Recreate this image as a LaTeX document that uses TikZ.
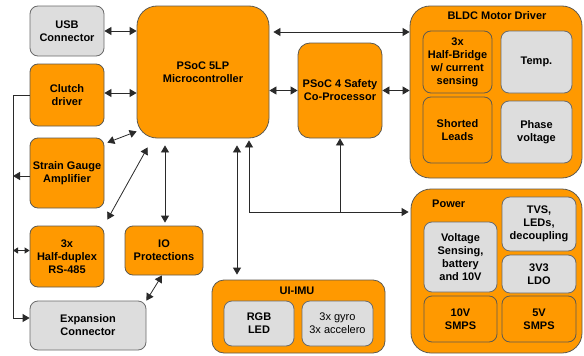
\documentclass[tikz,border=0pt]{standalone}
\usepackage{fontspec}
\setmainfont{Liberation Sans}
\usetikzlibrary{arrows.meta}
\definecolor{org}{HTML}{FF9900}
\definecolor{bordc}{HTML}{5E5A50}
\definecolor{grayf}{HTML}{DDDDDD}
\definecolor{grayb}{HTML}{6A6A6A}
\definecolor{linec}{HTML}{2A2A2A}
\begin{document}
\begin{tikzpicture}[x=1pt,y=-1pt,
  box/.style={rectangle, rounded corners=8pt, draw=bordc, line width=0.8pt, align=center, inner sep=1pt, font=\fontsize{11}{13}\selectfont\bfseries},
  obox/.style={box, fill=org},
  gbox/.style={box, fill=grayf, draw=grayb},
  con/.style={draw=linec, line width=0.8pt},
  tip/.style={-{Triangle[length=7pt,width=8pt]}},
  both/.style={{Triangle[length=7pt,width=8pt]}-{Triangle[length=7pt,width=8pt]}},
  smallboth/.style={{Triangle[length=5pt,width=6pt]}-{Triangle[length=5pt,width=6pt]}},
  title/.style={font=\fontsize{11}{13}\selectfont\bfseries, inner sep=0pt},
]
\useasboundingbox (0,0) rectangle (584,356);
\fill[white] (0,0) rectangle (584,356);

% left column
\node[gbox, minimum width=74pt, minimum height=50pt] (usb) at (67,31) {USB\\Connector};
\node[obox, minimum width=74pt, minimum height=62pt] (clutch) at (67,95) {Clutch\\driver};
\node[obox, minimum width=74pt, minimum height=70pt] (strain) at (67,173) {Strain Gauge\\Amplifier};
\node[obox, minimum width=74pt, minimum height=61pt] (rs) at (67,256.5) {3x\\Half-duplex\\RS-485};
\node[obox, minimum width=78pt, minimum height=49pt] (io) at (164,250.5) {IO\\Protections};
\node[gbox, minimum width=116pt, minimum height=49pt] (exp) at (88,325.5) {Expansion\\Connector};

% processors
\node[obox, rounded corners=20pt, minimum width=132pt, minimum height=132pt] (p5) at (203,72) {PSoC 5LP\\Microcontroller};
\node[obox, rounded corners=12pt, minimum width=84pt, minimum height=95pt] (p4) at (340,90.5) {PSoC 4 Safety\\Co-Processor};

% BLDC
\node[obox, rounded corners=20pt, minimum width=172pt, minimum height=172pt] (bldc) at (496,92) {};
\node[title] at (497,16) {BLDC Motor Driver};
\node[obox, minimum width=69pt, minimum height=62pt] (hb) at (457.5,62) {3x\\Half-Bridge\\w/ current\\sensing};
\node[gbox, minimum width=71pt, minimum height=62pt] (temp) at (536.5,62) {Temp.};
\node[obox, minimum width=69pt, minimum height=66pt] (short) at (457.5,130) {Shorted\\Leads};
\node[gbox, minimum width=71pt, minimum height=62pt] (phase) at (536.5,132) {Phase\\voltage};

% Power
\node[obox, rounded corners=20pt, minimum width=171pt, minimum height=164pt] (pow) at (496.5,271) {};
\node[title, anchor=west] at (432,204) {Power};
\node[gbox, minimum width=73pt, minimum height=70pt] (vs) at (460.5,257) {Voltage\\Sensing,\\battery\\and 10V};
\node[gbox, minimum width=74pt, minimum height=54pt] (tvs) at (539,224) {TVS,\\LEDs,\\decoupling};
\node[gbox, minimum width=74pt, minimum height=38pt] (ldo) at (539,274) {3V3\\LDO};
\node[obox, minimum width=73pt, minimum height=46pt] (s10) at (460.5,319) {10V\\SMPS};
\node[obox, minimum width=74pt, minimum height=46pt] (s5) at (539,319) {5V\\SMPS};

% UI-IMU
\node[obox, rounded corners=12pt, minimum width=173pt, minimum height=73pt] (ui) at (298.5,316.5) {};
\node[title] at (297,291) {UI-IMU};
\node[gbox, minimum width=70pt, minimum height=45pt] (rgb) at (259,323.5) {RGB\\LED};
\node[gbox, minimum width=71pt, minimum height=45pt, font=\fontsize{11}{13}\selectfont] (gyro) at (337.5,323.5) {3x gyro\\3x accelero};

% helper coordinates
\coordinate (clE) at ([yshift=2pt]clutch.east);
\coordinate (p5top) at ([yshift=40pt]p5.east);
\coordinate (ioN) at ([xshift=1pt]io.north);
\coordinate (p5ui) at ([xshift=34pt]p5.south);
\coordinate (stW) at ([yshift=-3pt]strain.west);
\coordinate (rsW) at ([yshift=6pt]rs.west);

% connectors
\draw[con, both] (usb.east) -- (p5.west |- usb.east);
\draw[con, both] (clE) -- (p5.west |- clE);
\draw[con, both] ([shift={(3,5)}]strain.north east) -- ([shift={(0,-7)}]p5.south west);
\draw[con, both] ([shift={(3,-6)}]rs.north east) -- ([shift={(11,9)}]p5.south west);
\draw[con, both, shorten <=3pt, shorten >=7pt] (ioN) -- (ioN |- p5.south);
\draw[con, both] ([xshift=-2pt]io.south) -- (exp.north east);
\draw[con, both, shorten <=7pt, shorten >=5pt] (p5ui) -- (p5ui |- ui.north);
\draw[con, both, shorten <=4pt] (p5top) -- (bldc.west |- p5top);
\draw[con, both] (p4.west) -- (p5.east |- p4.west);
\draw[con, both] (p4.east) -- (bldc.west |- p4.east);

% power bus
\coordinate (j1) at (249,212);
\coordinate (j2) at (340,212);
\draw[con, tip, shorten >=2pt] (j1) -- (pow.west |- j1);
\draw[con, tip, shorten >=2pt] (j1) -- (j1 |- p5.south);
\draw[con, tip] (j2) -- (p4.south);

% left bus
\coordinate (bt) at (13,95);
\coordinate (bb) at (13,318);
\draw[con, tip] (clutch.west) -- (bt) -- (bb) -- (exp.west |- bb);
\draw[con, tip] (stW) -- (bt |- stW);
\draw[con, smallboth] (rsW) -- (bt |- rsW);
\end{tikzpicture}
\end{document}
